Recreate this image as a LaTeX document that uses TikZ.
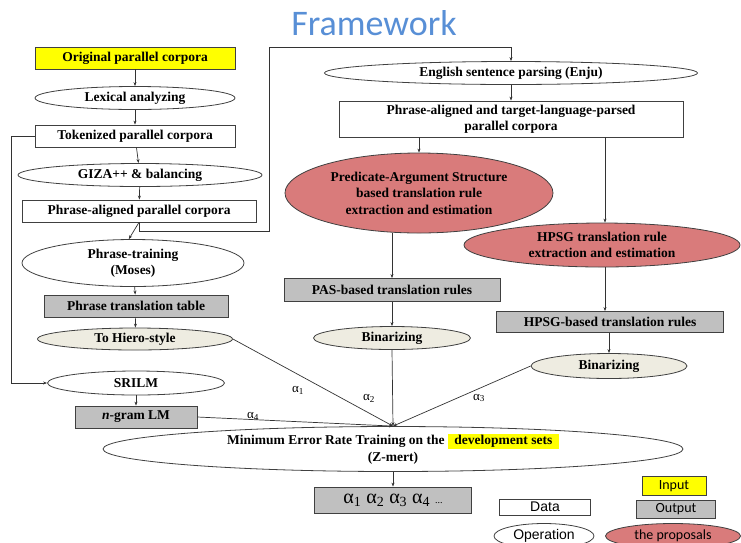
\documentclass[tikz,border=0pt]{standalone}
\usepackage{fontspec}
\setmainfont{Liberation Serif}
\newfontfamily\calfont{Carlito}
\newfontfamily\arialfont{Liberation Sans}
\usetikzlibrary{shapes.geometric,arrows.meta}
\definecolor{inyellow}{RGB}{255,255,0}
\definecolor{outgray}{RGB}{192,192,192}
\definecolor{hierobeige}{RGB}{238,236,225}
\definecolor{proposalred}{RGB}{217,123,123}
\definecolor{titleblue}{RGB}{88,143,214}
\tikzset{
	every node/.style={font=\bfseries\fontsize{13.5}{16.5}\selectfont, inner sep=0pt, align=center},
	databox/.style={draw=black!75, line width=0.8pt, rectangle},
	inbox/.style={databox, fill=inyellow},
	outbox/.style={databox, fill=outgray},
	opnode/.style={draw=black!75, line width=0.8pt, ellipse},
	hieronode/.style={opnode, fill=hierobeige},
	propnode/.style={opnode, fill=proposalred},
	conn/.style={draw=black!80, line width=0.7pt, -{Stealth[length=4pt,width=3pt]}},
	weight/.style={font=\fontsize{13}{15}\selectfont},
	legend/.style={font=\arialfont\fontsize{14}{16}\selectfont},
	legendcal/.style={font=\calfont\fontsize{14}{16}\selectfont}
}

\begin{document}
\begin{tikzpicture}[x=1pt,y=-1pt]
		%%%%% START %%%%%
		\useasboundingbox (0,0) rectangle (741,542);
		
		\node[font=\calfont\fontsize{36}{40}\selectfont, text=titleblue] (title) at (374,23) {Framework};
		
		% left column
		\node[inbox, minimum width=200, minimum height=22] (orig) at (135,58) {Original parallel corpora};
		\node[opnode, minimum width=200, minimum height=23] (lex) at (135,98) {Lexical analyzing};
		\node[databox, minimum width=200, minimum height=22] (tok) at (135,136) {Tokenized parallel corpora};
		\node[opnode, minimum width=244, minimum height=23] (giza) at (140,175) {GIZA++ \& balancing};
		\node[databox, minimum width=234, minimum height=22] (phal) at (139,211) {Phrase-aligned parallel corpora};
		\node[opnode, minimum width=222, minimum height=47] (ptrain) at (133,263) {Phrase-training\\(Moses)};
		\node[outbox, minimum width=184, minimum height=22] (ptable) at (136,306) {Phrase translation table};
		\node[hieronode, minimum width=195, minimum height=22] (hiero) at (135,339) {To Hiero-style};
		\node[opnode, minimum width=177, minimum height=24] (srilm) at (136,383) {SRILM};
		\node[outbox, minimum width=122, minimum height=22] (lm) at (136,417) {\textit{n}-gram LM};
		
		% right part
		\node[opnode, minimum width=373, minimum height=23] (enju) at (511,73) {English sentence parsing (Enju)};
		\node[databox, minimum width=344, minimum height=36] (pacorp) at (511,119) {Phrase-aligned and target-language-parsed\\parallel corpora};
		\node[propnode, minimum width=268, minimum height=80] (pas) at (419,193) {Predicate-Argument Structure\\based translation rule\\extraction and estimation};
		\node[propnode, minimum width=276, minimum height=44] (hpsg) at (602,245) {HPSG translation rule\\extraction and estimation};
		\node[outbox, minimum width=216, minimum height=23] (pasrules) at (392,290) {PAS-based translation rules};
		\node[hieronode, minimum width=157, minimum height=23] (bin1) at (392,338) {Binarizing};
		\node[outbox, minimum width=227, minimum height=21] (hpsgrules) at (610,322) {HPSG-based translation rules};
		\node[hieronode, minimum width=156, minimum height=25] (bin2) at (609,366) {Binarizing};
		
		% tuning
		\node[opnode, minimum width=580, minimum height=45] (mert) at (393,449) {Minimum Error Rate Training on the {\setlength{\fboxsep}{1.5pt}\colorbox{inyellow}{\hspace{5pt}development sets\hspace{5pt}}}\\(Z-mert)};
		\node[outbox, minimum width=157, minimum height=26, font=\fontsize{20}{22}\selectfont] (alphas) at (393,500) {α\textsubscript{1} α\textsubscript{2} α\textsubscript{3} α\textsubscript{4} {\fontsize{10}{12}\selectfont ...}};
		
		\node[weight] (w1) at (298,390) {α\textsubscript{1}};
		\node[weight] (w2) at (369,398) {α\textsubscript{2}};
		\node[weight] (w3) at (479,398) {α\textsubscript{3}};
		\node[weight] (w4) at (253,416) {α\textsubscript{4}};
		
		% legend
		\node[inbox, legendcal, minimum width=64, minimum height=19] (kin) at (674,486) {Input};
		\node[databox, legend, minimum width=91, minimum height=16] (kdata) at (545,507) {Data};
		\node[outbox, legendcal, minimum width=79, minimum height=18] (kout) at (676,509) {Output};
		\node[opnode, legend, minimum width=100, minimum height=25] (kop) at (544,536) {Operation};
		\node[propnode, legendcal, minimum width=135, minimum height=25] (kprop) at (673,536) {the proposals};
		
		% connectors
		\coordinate (loopup) at (269,47);
		\draw[conn] (orig) -- (lex);
		\draw[conn] (lex) -- (tok);
		\draw[conn] (tok) -- (giza);
		\draw[conn] (giza) -- (phal);
		\draw[conn] (phal.south) -- (ptrain.100);
		\draw[conn] (phal.south) -- ++(0,9) -| (loopup) -| (enju.north);
		\draw[conn] (tok.west) -- ++(-23,0) |- (srilm.west);
		\draw[conn] (ptrain) -- (ptable);
		\draw[conn] (ptable) -- (hiero);
		\draw[conn] (srilm) -- (lm);
		
		\draw[conn] (enju) -- (pacorp);
		\draw[conn] (pas.north |- pacorp.south) -- (pas.north);
		\draw[conn] (605,0 |- pacorp.south) -- (605,0 |- hpsg.north);
		\draw[conn] (pasrules.north |- pas.south) -- (pasrules.north);
		\draw[conn] (605,0 |- hpsg.south) -- (605,0 |- hpsgrules.north);
		\draw[conn] (pasrules) -- (bin1);
		\draw[conn] (bin2.north |- hpsgrules.south) -- (bin2.north);
		
		\draw[conn] (hiero.east) -- (mert.north);
		\draw[conn] (bin1.south) -- (mert.north);
		\draw[conn] (bin2.west) -- (mert.north);
		\draw[conn] (lm.east) -- (mert.north);
		\draw[conn] (mert) -- (alphas);
		
		%%%%% END %%%%%
\end{tikzpicture}
\end{document}
